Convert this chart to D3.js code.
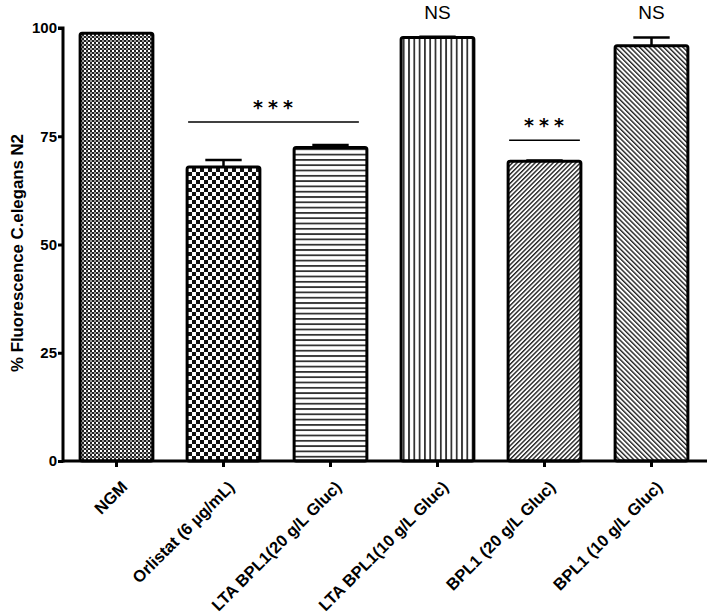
<!DOCTYPE html>
<html><head><meta charset="utf-8">
<script src="https://cdn.jsdelivr.net/npm/d3@7"></script>
<style>body{margin:0;background:#fff}svg{display:block}</style>
</head><body>
<script>
const categories = ["NGM","Orlistat (6 \u00b5g/mL)","LTA  BPL1(20 g/L Gluc)","LTA BPL1(10 g/L Gluc)","BPL1 (20 g/L Gluc)","BPL1 (10 g/L Gluc)"];
const values = [98.8, 67.9, 72.4, 97.8, 69.2, 95.9];
const errors = [0, 1.6, 0.6, 0.2, 0.2, 1.9];
const yTicks = [0, 25, 50, 75, 100];
const patterns = ["fineCheck","coarseCheck","hLines","vLines","diagUp","diagDown"];
const sigLabels = [{from:1,to:2,text:"***",y:78.3},{from:4,to:4,text:"***",y:74.1}];
const nsLabels = [{idx:3,text:"NS"},{idx:5,text:"NS"}];

const W=709,H=615;
const svg=d3.select("body").append("svg").attr("width",W).attr("height",H);
const defs=svg.append("defs");
function pat(id,w,h,draw){const p=defs.append("pattern").attr("id",id).attr("patternUnits","userSpaceOnUse").attr("width",w).attr("height",h);p.append("rect").attr("width",w).attr("height",h).attr("fill","#fff");draw(p);}
pat("fineCheck",4,4,p=>{p.append("rect").attr("width",2).attr("height",2).attr("fill","#222");p.append("rect").attr("x",2).attr("y",2).attr("width",2).attr("height",2).attr("fill","#222");p.append("rect").attr("x",2).attr("y",0).attr("width",2).attr("height",2).attr("fill","#999");});
pat("coarseCheck",8,8,p=>{p.append("rect").attr("width",4).attr("height",4).attr("fill","#111");p.append("rect").attr("x",4).attr("y",4).attr("width",4).attr("height",4).attr("fill","#111");});
pat("hLines",5,5.3,p=>{p.append("rect").attr("y",0).attr("width",5).attr("height",1.8).attr("fill","#333");});
pat("vLines",5.3,5,p=>{p.append("rect").attr("x",0).attr("width",1.8).attr("height",5).attr("fill","#333");});
pat("diagUp",3.2,3.2,p=>{p.attr("patternTransform","rotate(45)");p.append("rect").attr("width",1.4).attr("height",3.2).attr("fill","#222");});
pat("diagDown",3.4,3.4,p=>{p.attr("patternTransform","rotate(-45)");p.append("rect").attr("width",1.4).attr("height",3.4).attr("fill","#222");});

const x=d3.scaleBand().domain(categories).range([63,705]).paddingInner(0.32).paddingOuter(0.16);
const y=d3.scaleLinear().domain([0,100]).range([461,28]);
const FONT="Liberation Sans, Arial, sans-serif";

const g=svg.append("g");
g.selectAll("rect.bar").data(categories).join("rect").attr("class","bar")
 .attr("x",d=>x(d)).attr("width",x.bandwidth())
 .attr("y",(d,i)=>y(values[i])).attr("height",(d,i)=>y(0)-y(values[i]))
 .attr("rx",2).attr("fill",(d,i)=>`url(#${patterns[i]})`).attr("stroke","#000").attr("stroke-width",3);
categories.forEach((c,i)=>{
  if(!errors[i])return;
  const cx=x(c)+x.bandwidth()/2, cw=x.bandwidth()*0.5;
  g.append("line").attr("x1",cx).attr("x2",cx).attr("y1",y(values[i])).attr("y2",y(values[i]+errors[i])).attr("stroke","#000").attr("stroke-width",2.5);
  g.append("line").attr("x1",cx-cw/2).attr("x2",cx+cw/2).attr("y1",y(values[i]+errors[i])).attr("y2",y(values[i]+errors[i])).attr("stroke","#000").attr("stroke-width",2.5);
});

const yAxis=d3.axisLeft(y).tickValues(yTicks).tickSize(5).tickPadding(1);
const ya=svg.append("g").attr("transform","translate(63,0)").call(yAxis);
ya.select(".domain").attr("stroke-width",3).attr("d",`M-5,${y(100)}H0V${y(0)+1.5}`);
ya.selectAll(".tick line").attr("stroke-width",3);
ya.selectAll("text").attr("font-family",FONT).attr("font-weight","bold").attr("font-size",15).attr("fill","#000");

const xAxis=d3.axisBottom(x).tickSize(6).tickPadding(0);
const xa=svg.append("g").attr("transform","translate(0,461)").call(xAxis);
xa.select(".domain").attr("stroke-width",3).attr("d","M63,0H707");
xa.selectAll(".tick line").attr("stroke-width",3);
xa.selectAll("text").attr("font-family",FONT).attr("font-weight","bold").attr("font-size",16.5).attr("fill","#000")
 .attr("text-anchor","end").attr("y",0).attr("dy",0).attr("transform","translate(12,27) rotate(-45)");

svg.append("text").attr("transform","translate(23,253) rotate(-90)").attr("text-anchor","middle")
 .attr("font-family",FONT).attr("font-weight","bold").attr("font-size",16.8).text("% Fluorescence C.elegans N2");

sigLabels.forEach(s=>{
  const x1=x(categories[s.from])+1, x2=x(categories[s.to])+x.bandwidth()-1;
  const xs = s.from===s.to ? [x1, x2] : [x1, x2-7];
  g.append("line").attr("x1",xs[0]).attr("x2",xs[1]).attr("y1",y(s.y)).attr("y2",y(s.y)).attr("stroke","#000").attr("stroke-width",1.5);
  g.append("text").attr("x",(xs[0]+xs[1])/2+2).attr("y",y(s.y)-8).attr("text-anchor","middle")
   .attr("font-family","DejaVu Sans, sans-serif").attr("font-weight","bold").attr("font-size",19).attr("letter-spacing",5).text(s.text);
});
nsLabels.forEach(n=>{
  g.append("text").attr("x",x(categories[n.idx])+x.bandwidth()/2).attr("y",19).attr("text-anchor","middle")
   .attr("font-family",FONT).attr("font-size",19).text(n.text);
});
</script>
</body></html>
